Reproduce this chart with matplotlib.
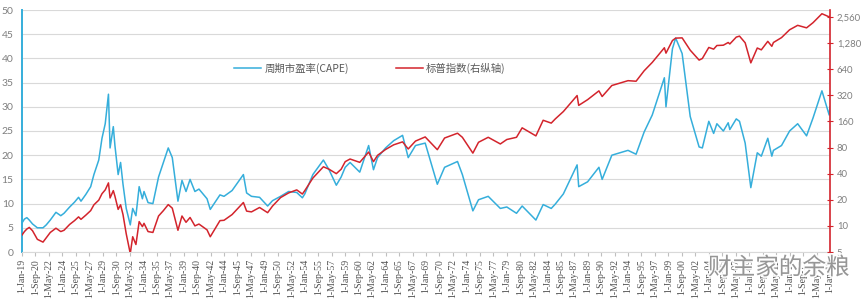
import matplotlib
matplotlib.use("Agg")
import matplotlib.pyplot as plt
import matplotlib.patheffects as pe
from matplotlib.ticker import FixedLocator, FuncFormatter

plt.rcParams['font.family'] = ['Lato', 'Noto Sans CJK SC', 'DejaVu Sans']

# decimal-year dates of sample points
dates = [1919.0, 1919.3, 1919.6, 1919.9, 1920.3, 1920.9, 1921.6, 1922.0, 1922.5, 1923.2,
         1923.8, 1924.2, 1924.9, 1925.5, 1926.0, 1926.3, 1926.9, 1927.5, 1927.9, 1928.5,
         1928.9, 1929.3, 1929.7, 1929.9, 1930.3, 1930.5, 1930.9, 1931.2, 1931.5, 1931.9,
         1932.4, 1932.7, 1933.1, 1933.5, 1933.9, 1934.1, 1934.6, 1935.2, 1935.9, 1936.5,
         1937.1, 1937.6, 1938.3, 1938.8, 1939.3, 1939.8, 1940.4, 1940.9, 1941.9, 1942.3,
         1943.5, 1944.0, 1945.0, 1946.4, 1946.8, 1947.4, 1948.4, 1949.4, 1950.0, 1951.0,
         1952.0, 1953.0, 1953.7, 1954.0, 1955.0, 1956.3, 1957.0, 1957.9, 1958.5, 1959.0,
         1959.6, 1960.8, 1961.9, 1962.5, 1963.0, 1964.0, 1965.0, 1966.1, 1966.8, 1967.7,
         1968.9, 1970.4, 1971.3, 1972.9, 1973.5, 1974.8, 1975.5, 1976.7, 1978.2, 1979.0,
         1980.2, 1980.9, 1982.6, 1983.5, 1984.5, 1985.0, 1986.0, 1987.7, 1987.9, 1989.0,
         1990.4, 1990.8, 1992.0, 1994.0, 1995.0, 1996.0, 1997.0, 1998.5, 1998.7, 1999.5,
         1999.9, 2000.7, 2001.7, 2002.8, 2003.2, 2004.0, 2004.6, 2005.0, 2005.8, 2006.4,
         2006.6, 2007.4, 2007.8, 2008.5,
         2009.2, 2010.0, 2010.5, 2011.3, 2011.8, 2012.0, 2013.0, 2014.0, 2015.0, 2016.1,
         2016.9, 2018.0, 2018.9, 2019.0]

cape = [6.0, 6.8, 7.1, 6.6, 5.8, 5.0, 5.0, 5.6, 6.6, 8.2,
        7.5, 8.0, 9.3, 10.3, 11.3, 10.5, 11.9, 13.5, 16.0, 19.0,
        23.5, 26.5, 32.6, 21.5, 25.9, 22.0, 16.0, 18.5, 14.0, 9.0,
        5.6, 9.0, 7.5, 13.5, 11.0, 12.5, 10.2, 10.0, 15.5, 18.5,
        21.5, 19.5, 10.5, 14.8, 12.5, 15.0, 12.5, 13.0, 11.0, 8.8,
        11.8, 11.5, 12.7, 16.0, 12.2, 11.5, 11.3, 9.5, 10.6, 11.5,
        12.5, 12.3, 11.2, 12.0, 16.0, 19.0, 17.0, 13.8, 15.5, 17.5,
        18.5, 16.5, 22.0, 17.0, 19.5, 21.5, 23.0, 24.1, 19.5, 22.0,
        22.5, 14.0, 17.5, 18.7, 16.0, 8.5, 10.8, 11.5, 9.0, 9.3,
        8.0, 9.5, 6.6, 9.8, 9.0, 9.9, 12.0, 18.0, 13.5, 14.5,
        17.5, 15.0, 20.0, 21.0, 20.2, 24.8, 28.3, 36.0, 30.0, 42.0,
        44.2, 41.0, 28.0, 21.7, 21.5, 27.0, 24.5, 26.5, 25.0, 26.7,
        25.3, 27.5, 27.0, 22.5,
        13.3, 20.5, 19.8, 23.5, 19.8, 21.0, 22.0, 25.0, 26.5, 24.0,
        27.7, 33.3, 28.3, 30.0]

sp500 = [7.85, 8.6, 9.2, 9.6, 8.8, 7.0, 6.5, 7.3, 8.4, 9.4,
         8.6, 8.9, 10.4, 11.5, 12.7, 11.9, 13.3, 15.0, 17.5, 19.8,
         23.5, 26.0, 31.3, 21.0, 25.5, 22.0, 15.5, 17.5, 13.5, 8.1,
         4.8, 7.5, 6.1, 11.2, 9.8, 10.7, 8.6, 8.4, 13.0, 15.0,
         17.6, 16.0, 8.9, 13.0, 11.0, 12.5, 10.0, 10.5, 9.0, 7.5,
         11.5, 11.6, 13.5, 18.6, 14.8, 14.5, 16.3, 14.2, 16.9, 21.2,
         24.0, 26.0, 23.3, 25.5, 35.6, 48.0, 45.0, 40.0, 45.0, 55.0,
         59.0, 54.0, 71.0, 55.0, 65.0, 76.0, 86.0, 93.0, 77.0, 95.0,
         106.0, 75.6, 103.0, 117.0, 105.0, 69.0, 92.0, 105.0, 88.0, 99.0,
         105.0, 135.0, 109.0, 165.0, 153.0, 171.0, 208.0, 318.0, 245.0, 285.0,
         360.0, 310.0, 415.0, 472.0, 465.0, 614.0, 766.0, 1130.0, 980.0, 1370.0,
         1460.0, 1470.0, 1060.0, 815.0, 850.0, 1140.0, 1090.0, 1200.0, 1210.0, 1300.0,
         1250.0, 1500.0, 1540.0, 1290.0,
         757.0, 1123.0, 1070.0, 1340.0, 1175.0, 1300.0, 1480.0, 1822.0, 2050.0, 1918.0,
         2200.0, 2790.0, 2567.0, 2607.0]

# x tick labels, every 20 months from Jan-1919 to Jan-2019
month_names = ['Jan', 'Feb', 'Mar', 'Apr', 'May', 'Jun', 'Jul', 'Aug', 'Sep', 'Oct', 'Nov', 'Dec']
tick_labels = []
tick_pos = []
for k in range(61):
    m = 1919 * 12 + k * 20
    yr, mo = divmod(m, 12)
    tick_pos.append(yr + mo / 12.0)
    tick_labels.append('1-%s-%02d' % (month_names[mo], yr % 100))

left_ticks = [0, 5, 10, 15, 20, 25, 30, 35, 40, 45, 50]
right_ticks = [5, 10, 20, 40, 80, 160, 320, 640, 1280, 2560]

blue = '#35AEDB'
red = '#D3242C'
gray = '#7F7F7F'

fig = plt.figure(figsize=(8.64, 3.0), dpi=100)
ax = fig.add_axes([22 / 864, 1 - 252 / 300, (830 - 22) / 864, (252 - 10) / 300])
ax2 = ax.twinx()

l1, = ax.plot(dates, cape, color=blue, lw=1.1, label='周期市盈率(CAPE)', zorder=3)
l2, = ax2.plot(dates, sp500, color=red, lw=1.1, label='标普指数(右纵轴)', zorder=4)

ax.set_xlim(1919.0, 2019.0)
ax.set_ylim(0, 50)
ax.set_yticks(left_ticks)
ax.grid(axis='y', color='#D9D9D9', lw=0.8)
ax.set_axisbelow(True)
ax.xaxis.set_major_locator(FixedLocator(tick_pos))
ax.set_xticklabels(tick_labels, rotation=90, fontsize=7.0, family='Liberation Serif', color='#505050')
ax.tick_params(axis='x', length=3, color='#BFBFBF', pad=2)
ax.tick_params(axis='y', length=0, labelsize=7.5, labelcolor=gray, pad=6)

ax2.set_yscale('log', base=2)
ax2.set_ylim(5, 3080)
ax2.yaxis.set_major_locator(FixedLocator(right_ticks))
ax2.yaxis.set_minor_locator(FixedLocator([]))
ax2.yaxis.set_major_formatter(FuncFormatter(lambda v, p: '{:,}'.format(int(round(v)))))
ax2.tick_params(axis='y', direction='inout', length=4, color=red, labelsize=6.8, labelcolor=gray, pad=3)

for a in (ax, ax2):
    a.spines['top'].set_visible(False)
ax.spines['left'].set_color(blue)
ax.spines['left'].set_linewidth(1.4)
ax.spines['right'].set_visible(False)
ax.spines['bottom'].set_color('#D9D9D9')
ax2.spines['left'].set_visible(False)
ax2.spines['bottom'].set_visible(False)
ax2.spines['right'].set_color(red)
ax2.spines['right'].set_linewidth(1.2)

leg = ax2.legend(handles=[l1, l2], loc='center left', bbox_to_anchor=((225 - 22) / 808, 1 - (68 - 10) / 242),
                 ncol=2, frameon=False, handlelength=2.6, handletextpad=0.3,
                 columnspacing=4.5, prop={'family': ['Noto Sans CJK SC', 'DejaVu Sans'], 'size': 7.5})
for t in leg.get_texts():
    t.set_color('#595959')

# watermark
fig.text(708 / 864, 1 - 268 / 300, '财主家的余粮', fontsize=17, color='#8C8C8C', alpha=0.9,
         family=['Noto Sans CJK SC'], va='center', ha='left',
         path_effects=[pe.withStroke(linewidth=2.5, foreground='white')])

fig.savefig('out.png', dpi=100)
